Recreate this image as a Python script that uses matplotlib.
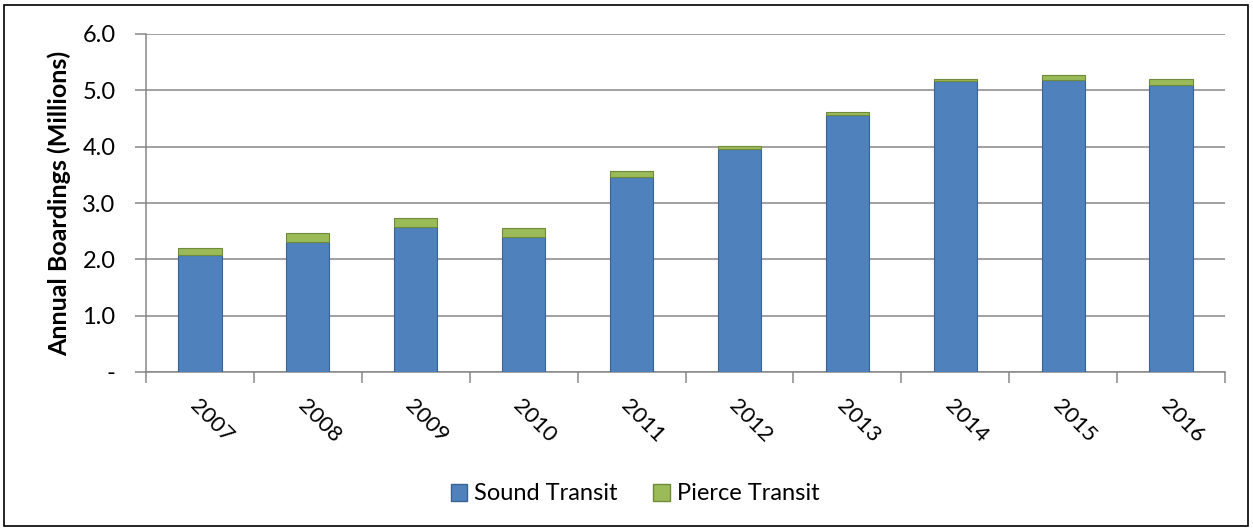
import matplotlib
matplotlib.use("Agg")
import matplotlib.pyplot as plt
from matplotlib.patches import Rectangle, Patch
import numpy as np

years = ["2007", "2008", "2009", "2010", "2011", "2012", "2013", "2014", "2015", "2016"]
sound_transit = [2.08, 2.31, 2.58, 2.40, 3.46, 3.96, 4.56, 5.16, 5.18, 5.10]
pierce_transit = [0.13, 0.16, 0.15, 0.15, 0.10, 0.05, 0.06, 0.04, 0.09, 0.10]
y_ticks = [0, 1, 2, 3, 4, 5, 6]
y_tick_labels = ["-", "1.0", "2.0", "3.0", "4.0", "5.0", "6.0"]

plt.rcParams['font.family'] = ['Lato', 'DejaVu Sans']

W, H = 1253, 531
fig = plt.figure(figsize=(W / 100, H / 100), dpi=100)
ax = fig.add_axes([146 / W, 1 - 372 / H, (1225 - 146) / W, (372 - 34) / H])

blue = "#4F81BD"
green = "#9BBB59"
x = np.arange(len(years))
ax.bar(x, sound_transit, width=0.4, color=blue, edgecolor="#3A6394", linewidth=0.8, zorder=3,
       label="Sound Transit")
ax.bar(x, pierce_transit, width=0.4, bottom=sound_transit, color=green, edgecolor="#6E8A3A",
       linewidth=0.8, zorder=3, label="Pierce Transit")

ax.set_xlim(-0.5, len(years) - 0.5)
ax.set_ylim(0, 6)
ax.set_yticks(y_ticks)
ax.set_yticklabels(y_tick_labels, fontsize=17)
ax.yaxis.grid(True, color="#878787", linewidth=1.1, zorder=0)
ax.tick_params(axis='y', length=8, width=1.1, color="#878787", pad=14)

ax.set_xticks(np.arange(-0.5, len(years), 1.0))
ax.set_xticklabels([])
ax.tick_params(axis='x', which='major', length=8, width=1.1, color="#878787")
ax.set_xticks(x, minor=True)
ax.set_xticklabels(years, minor=True, fontsize=16, rotation=-45, ha='left', va='top',
                   rotation_mode='anchor')
ax.tick_params(axis='x', which='minor', length=0, pad=17)

for s in ["top", "right"]:
    ax.spines[s].set_visible(False)
for s in ["left", "bottom"]:
    ax.spines[s].set_color("#878787")
    ax.spines[s].set_linewidth(1.1)

ax.set_ylabel("Annual Boardings (Millions)", fontsize=18, fontweight='bold')
ax.yaxis.set_label_coords((71 - 146) / (1225 - 146), 0.5)

handles = [Patch(facecolor=blue, edgecolor="#3A6394"), Patch(facecolor=green, edgecolor="#6E8A3A")]
fig.legend(handles, ["Sound Transit", "Pierce Transit"], loc='center', bbox_to_anchor=(635 / W, 1 - 494 / H),
           ncol=2, frameon=False, fontsize=17, handlelength=0.7, handleheight=0.7,
           handletextpad=0.3, columnspacing=1.5)

fig.add_artist(Rectangle((4 / W, 5 / H), (1248 - 4) / W, (526 - 5) / H, transform=fig.transFigure,
                         fill=False, edgecolor="black", linewidth=1.2))

fig.savefig("out.png", dpi=100)
